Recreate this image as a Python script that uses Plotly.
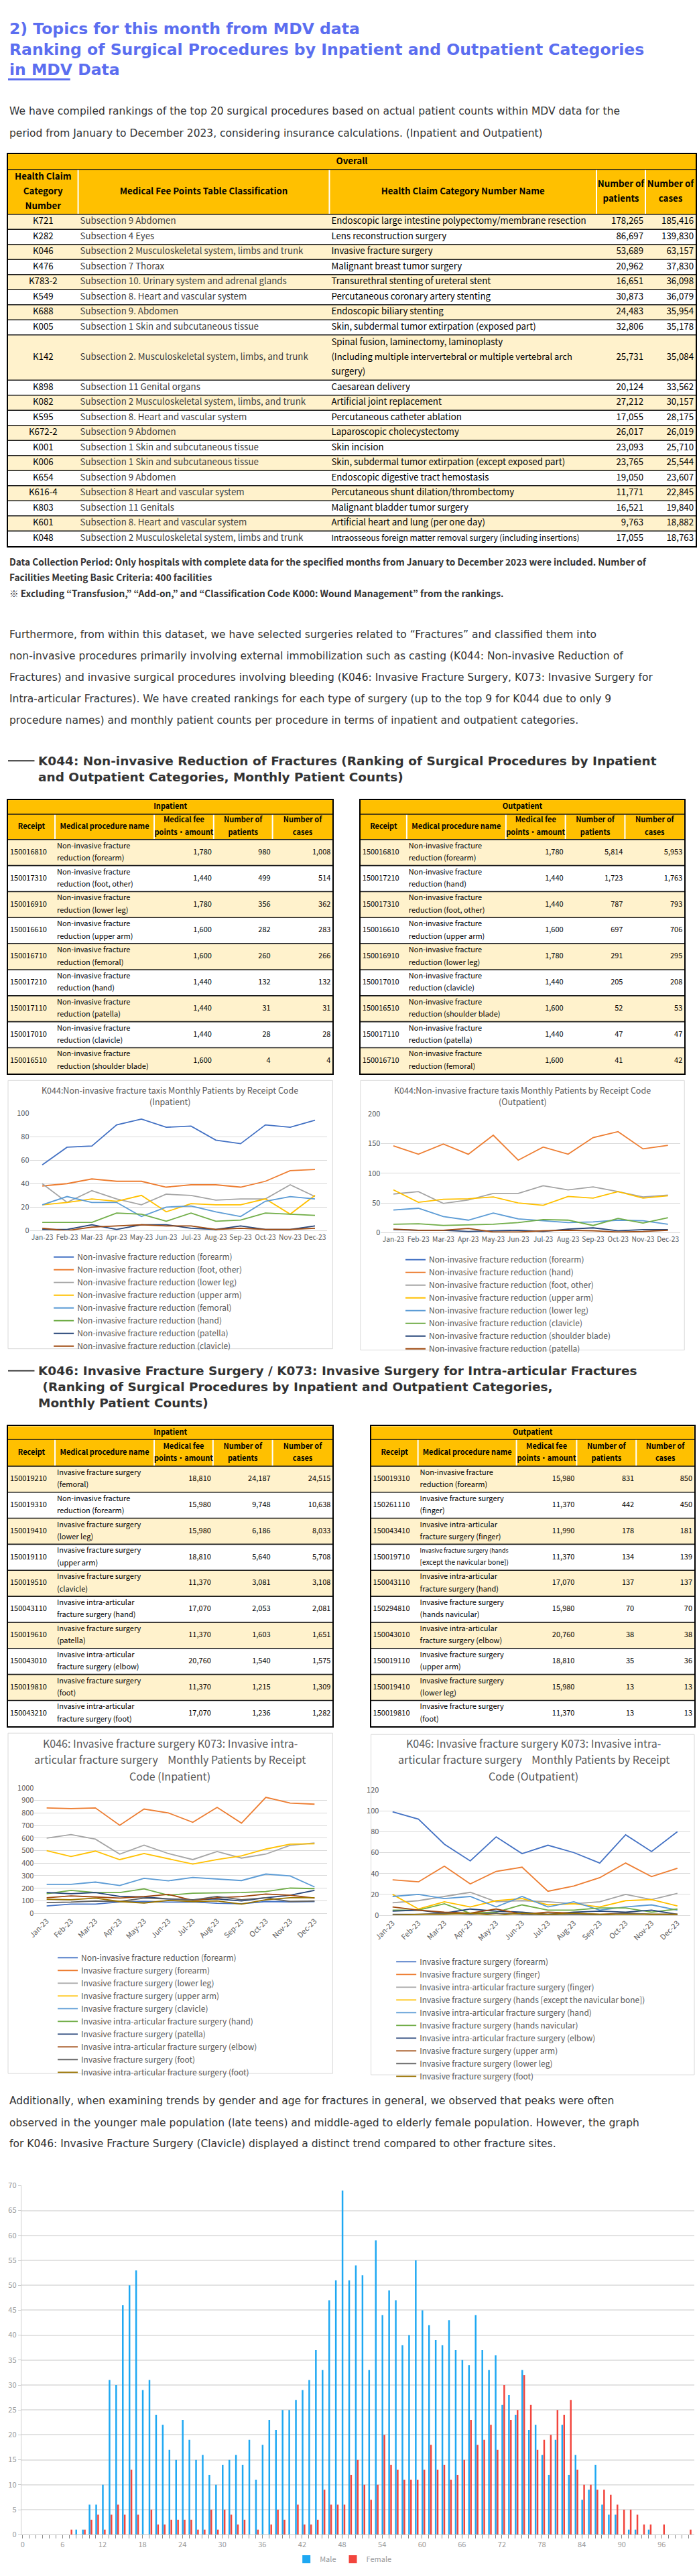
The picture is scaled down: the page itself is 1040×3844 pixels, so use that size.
import plotly.graph_objects as go

W, H = 1040, 3844
FONT = "Noto Sans CJK JP, Noto Sans, sans-serif"
BODY = "DejaVu Sans, Noto Sans, sans-serif"
TITLE_BLUE = "#5B6EF0"
TXT = "#333333"
GOLD, CREAM = "#FFC000", "#FFF2CC"
AXIS_GRAY = "#595959"
EXCEL = ["#4472C4", "#ED7D31", "#A5A5A5", "#FFC000", "#5B9BD5",
         "#70AD47", "#264478", "#9E480E", "#636363", "#997300"]

# ---------------------------------------------------------------- text
title_lines = ["2) Topics for this month from MDV data",
               "Ranking of Surgical Procedures by Inpatient and Outpatient Categories",
               "in MDV Data"]
intro_lines = ["We have compiled rankings of the top 20 surgical procedures based on actual patient counts within MDV data for the",
               "period from January to December 2023, considering insurance calculations. (Inpatient and Outpatient)"]
foot_lines = ["Data Collection Period: Only hospitals with complete data for the specified months from January to December 2023 were included. Number of",
              "Facilities Meeting Basic Criteria: 400 facilities",
              "※ Excluding “Transfusion,” “Add-on,” and “Classification Code K000: Wound Management” from the rankings."]
para_lines = ["Furthermore, from within this dataset, we have selected surgeries related to “Fractures” and classified them into",
              "non-invasive procedures primarily involving external immobilization such as casting (K044: Non-invasive Reduction of",
              "Fractures) and invasive surgical procedures involving bleeding (K046: Invasive Fracture Surgery, K073: Invasive Surgery for",
              "Intra-articular Fractures). We have created rankings for each type of surgery (up to the top 9 for K044 due to only 9",
              "procedure names) and monthly patient counts per procedure in terms of inpatient and outpatient categories."]
k044_heading = ["K044: Non-invasive Reduction of Fractures (Ranking of Surgical Procedures by Inpatient",
                "and Outpatient Categories, Monthly Patient Counts)"]
k046_heading = ["K046: Invasive Fracture Surgery / K073: Invasive Surgery for Intra-articular Fractures",
                "\u00a0(Ranking of Surgical Procedures by Inpatient and Outpatient Categories,",
                "Monthly Patient Counts)"]
final_lines = ["Additionally, when examining trends by gender and age for fractures in general, we observed that peaks were often",
               "observed in the younger male population (late teens) and middle-aged to elderly female population. However, the graph",
               "for K046: Invasive Fracture Surgery (Clavicle) displayed a distinct trend compared to other fracture sites."]

# ---------------------------------------------------------------- overall table
overall_headers = ["Health Claim\nCategory\nNumber", "Medical Fee Points Table Classification",
                   "Health Claim Category Number Name", "Number of\npatients", "Number of\ncases"]
overall_codes = ["K721", "K282", "K046", "K476", "K783-2", "K549", "K688", "K005", "K142", "K898",
                 "K082", "K595", "K672-2", "K001", "K006", "K654", "K616-4", "K803", "K601", "K048"]
overall_class = ["Subsection 9 Abdomen", "Subsection 4 Eyes",
                 "Subsection 2 Musculoskeletal system, limbs and trunk", "Subsection 7 Thorax",
                 "Subsection 10. Urinary system and adrenal glands", "Subsection 8. Heart and vascular system",
                 "Subsection 9. Abdomen", "Subsection 1 Skin and subcutaneous tissue",
                 "Subsection 2. Musculoskeletal system, limbs, and trunk", "Subsection 11 Genital organs",
                 "Subsection 2 Musculoskeletal system, limbs, and trunk", "Subsection 8. Heart and vascular system",
                 "Subsection 9 Abdomen", "Subsection 1 Skin and subcutaneous tissue",
                 "Subsection 1 Skin and subcutaneous tissue", "Subsection 9 Abdomen",
                 "Subsection 8 Heart and vascular system", "Subsection 11 Genitals",
                 "Subsection 8. Heart and vascular system", "Subsection 2 Musculoskeletal system, limbs and trunk"]
overall_names = ["Endoscopic large intestine polypectomy/membrane resection", "Lens reconstruction surgery",
                 "Invasive fracture surgery", "Malignant breast tumor surgery",
                 "Transurethral stenting of ureteral stent", "Percutaneous coronary artery stenting",
                 "Endoscopic biliary stenting", "Skin, subdermal tumor extirpation (exposed part)",
                 "Spinal fusion, laminectomy, laminoplasty\n(Including multiple intervertebral or multiple vertebral arch\nsurgery)",
                 "Caesarean delivery", "Artificial joint replacement", "Percutaneous catheter ablation",
                 "Laparoscopic cholecystectomy", "Skin incision",
                 "Skin, subdermal tumor extirpation (except exposed part)", "Endoscopic digestive tract hemostasis",
                 "Percutaneous shunt dilation/thrombectomy", "Malignant bladder tumor surgery",
                 "Artificial heart and lung (per one day)",
                 "Intraosseous foreign matter removal surgery (including insertions)"]
overall_patients = [178265, 86697, 53689, 20962, 16651, 30873, 24483, 32806, 25731, 20124,
                    27212, 17055, 26017, 23093, 23765, 19050, 11771, 16521, 9763, 17055]
overall_cases = [185416, 139830, 63157, 37830, 36098, 36079, 35954, 35178, 35084, 33562,
                 30157, 28175, 26019, 25710, 25544, 23607, 22845, 19840, 18882, 18763]

small_headers = ["Receipt", "Medical procedure name", "Medical fee\npoints・amount", "Number of\npatients", "Number of\ncases"]

# ---------------------------------------------------------------- K044 tables
k044_in_codes = ["150016810", "150017310", "150016910", "150016610", "150016710",
                 "150017210", "150017110", "150017010", "150016510"]
k044_in_names = ["Non-invasive fracture\nreduction (forearm)", "Non-invasive fracture\nreduction (foot, other)",
                 "Non-invasive fracture\nreduction (lower leg)", "Non-invasive fracture\nreduction (upper arm)",
                 "Non-invasive fracture\nreduction (femoral)", "Non-invasive fracture\nreduction (hand)",
                 "Non-invasive fracture\nreduction (patella)", "Non-invasive fracture\nreduction (clavicle)",
                 "Non-invasive fracture\nreduction (shoulder blade)"]
k044_in_points = [1780, 1440, 1780, 1600, 1600, 1440, 1440, 1440, 1600]
k044_in_patients = [980, 499, 356, 282, 260, 132, 31, 28, 4]
k044_in_cases = [1008, 514, 362, 283, 266, 132, 31, 28, 4]

k044_out_codes = ["150016810", "150017210", "150017310", "150016610", "150016910",
                  "150017010", "150016510", "150017110", "150016710"]
k044_out_names = ["Non-invasive fracture\nreduction (forearm)", "Non-invasive fracture\nreduction (hand)",
                  "Non-invasive fracture\nreduction (foot, other)", "Non-invasive fracture\nreduction (upper arm)",
                  "Non-invasive fracture\nreduction (lower leg)", "Non-invasive fracture\nreduction (clavicle)",
                  "Non-invasive fracture\nreduction (shoulder blade)", "Non-invasive fracture\nreduction (patella)",
                  "Non-invasive fracture\nreduction (femoral)"]
k044_out_points = [1780, 1440, 1440, 1600, 1780, 1440, 1600, 1440, 1600]
k044_out_patients = [5814, 1723, 787, 697, 291, 205, 52, 47, 41]
k044_out_cases = [5953, 1763, 793, 706, 295, 208, 53, 47, 42]

# ---------------------------------------------------------------- K046 tables
k046_in_codes = ["150019210", "150019310", "150019410", "150019110", "150019510",
                 "150043110", "150019610", "150043010", "150019810", "150043210"]
k046_in_names = ["Invasive fracture surgery\n(femoral)", "Non-invasive fracture\nreduction (forearm)",
                 "Invasive fracture surgery\n(lower leg)", "Invasive fracture surgery\n(upper arm)",
                 "Invasive fracture surgery\n(clavicle)", "Invasive intra-articular\nfracture surgery (hand)",
                 "Invasive fracture surgery\n(patella)", "Invasive intra-articular\nfracture surgery (elbow)",
                 "Invasive fracture surgery\n(foot)", "Invasive intra-articular\nfracture surgery (foot)"]
k046_in_points = [18810, 15980, 15980, 18810, 11370, 17070, 11370, 20760, 11370, 17070]
k046_in_patients = [24187, 9748, 6186, 5640, 3081, 2053, 1603, 1540, 1215, 1236]
k046_in_cases = [24515, 10638, 8033, 5708, 3108, 2081, 1651, 1575, 1309, 1282]

k046_out_codes = ["150019310", "150261110", "150043410", "150019710", "150043110",
                  "150294810", "150043010", "150019110", "150019410", "150019810"]
k046_out_names = ["Non-invasive fracture\nreduction (forearm)", "Invasive fracture surgery\n(finger)",
                  "Invasive intra-articular\nfracture surgery (finger)",
                  "Invasive fracture surgery (hands\n[except the navicular bone])",
                  "Invasive intra-articular\nfracture surgery (hand)", "Invasive fracture surgery\n(hands navicular)",
                  "Invasive intra-articular\nfracture surgery (elbow)", "Invasive fracture surgery\n(upper arm)",
                  "Invasive fracture surgery\n(lower leg)", "Invasive fracture surgery\n(foot)"]
k046_out_points = [15980, 11370, 11990, 11370, 17070, 15980, 20760, 18810, 15980, 11370]
k046_out_patients = [831, 442, 178, 134, 137, 70, 38, 35, 13, 13]
k046_out_cases = [850, 450, 181, 139, 137, 70, 38, 36, 13, 13]

# ---------------------------------------------------------------- monthly series
months = ["Jan-23", "Feb-23", "Mar-23", "Apr-23", "May-23", "Jun-23",
          "Jul-23", "Aug-23", "Sep-23", "Oct-23", "Nov-23", "Dec-23"]

k044_in_title = ["K044:Non-invasive fracture taxis Monthly Patients by Receipt Code", "(Inpatient)"]
k044_in_series_names = ["Non-invasive fracture reduction (forearm)", "Non-invasive fracture reduction (foot, other)",
                        "Non-invasive fracture reduction (lower leg)", "Non-invasive fracture reduction (upper arm)",
                        "Non-invasive fracture reduction (femoral)", "Non-invasive fracture reduction (hand)",
                        "Non-invasive fracture reduction (patella)", "Non-invasive fracture reduction (clavicle)"]
k044_in_forearm = [56, 71, 72, 90, 95, 88, 89, 77, 74, 90, 88, 94]
k044_in_foot = [38, 40, 44, 42, 42, 37, 39, 39, 37, 42, 51, 52]
k044_in_lowerleg = [40, 24, 34, 27, 22, 31, 30, 26, 27, 27, 39, 29]
k044_in_upperarm = [22, 24, 27, 25, 30, 16, 23, 22, 22, 27, 14, 30]
k044_in_femoral = [22, 29, 24, 24, 12, 20, 21, 16, 12, 25, 29, 27]
k044_in_hand = [7, 7, 7, 15, 14, 8, 15, 8, 9, 15, 14, 13]
k044_in_patella = [1, 1, 5, 1, 5, 5, 2, 1, 4, 1, 1, 4]
k044_in_clavicle = [2, 0, 3, 4, 5, 4, 4, 1, 2, 1, 1, 2]

k044_out_title = ["K044:Non-invasive fracture taxis Monthly Patients by Receipt Code", "(Outpatient)"]
k044_out_series_names = ["Non-invasive fracture reduction (forearm)", "Non-invasive fracture reduction (hand)",
                         "Non-invasive fracture reduction (foot, other)", "Non-invasive fracture reduction (upper arm)",
                         "Non-invasive fracture reduction (lower leg)", "Non-invasive fracture reduction (clavicle)",
                         "Non-invasive fracture reduction (shoulder blade)", "Non-invasive fracture reduction (patella)"]
k044_out_forearm = [None, None, None, None, None, None, None, None, None, None, None, None]  # above axis maximum
k044_out_hand = [146, 132, 149, 132, 164, 122, 144, 132, 160, 170, 141, 147]
k044_out_foot = [65, 69, 49, 55, 66, 66, 79, 72, 77, 69, 60, 63]
k044_out_upperarm = [72, 51, 56, 57, 60, 50, 46, 61, 58, 69, 58, 62]
k044_out_lowerleg = [38, 41, 27, 21, 33, 23, 20, 17, 18, 21, 20, 14]
k044_out_clavicle = [14, 15, 12, 13, 14, 17, 22, 21, 12, 24, 16, 25]
k044_out_shoulder = [5, 4, 4, 2, 3, 4, 2, 6, 8, 3, 5, 5]
k044_out_patella = [6, 4, 4, 7, 1, 1, 3, 4, 3, 1, 2, 4]

k046_in_title = ["K046: Invasive fracture surgery K073: Invasive intra-",
                 "articular fracture surgery\u00a0\u00a0\u00a0\u00a0Monthly Patients by Receipt",
                 "Code (Inpatient)"]
k046_in_series_names = ["Non-invasive fracture reduction (forearm)", "Invasive fracture surgery (forearm)",
                        "Invasive fracture surgery (lower leg)", "Invasive fracture surgery (upper arm)",
                        "Invasive fracture surgery (clavicle)", "Invasive intra-articular fracture surgery (hand)",
                        "Invasive fracture surgery (patella)", "Invasive intra-articular fracture surgery (elbow)",
                        "Invasive fracture surgery (foot)", "Invasive intra-articular fracture surgery (foot)"]
k046_in_s1 = [59, 73, 73, 91, 94, 89, 91, 80, 76, 94, 91, 94]
k046_in_s2 = [840, 835, 840, 702, 831, 800, 725, 844, 719, 924, 879, 870]
k046_in_s3 = [600, 627, 591, 472, 543, 476, 428, 492, 440, 472, 542, 561]
k046_in_s4 = [499, 453, 496, 428, 476, 435, 393, 428, 458, 512, 551, 554]
k046_in_s5 = [231, 231, 249, 222, 279, 259, 286, 275, 261, 313, 298, 210]
k046_in_s6 = [156, 183, 165, 165, 195, 144, 160, 162, 165, 174, 201, 197]
k046_in_s7 = [165, 156, 165, 135, 130, 115, 108, 115, 99, 124, 144, 183]
k046_in_s8 = [124, 139, 130, 121, 133, 151, 103, 124, 133, 153, 144, 121]
k046_in_s9 = [85, 89, 98, 94, 121, 112, 107, 135, 108, 124, 94, 98]
k046_in_s10 = [112, 108, 121, 94, 82, 103, 94, 99, 73, 108, 124, 124]

k046_out_title = ["K046: Invasive fracture surgery K073: Invasive intra-",
                  "articular fracture surgery\u00a0\u00a0\u00a0\u00a0Monthly Patients by Receipt",
                  "Code (Outpatient)"]
k046_out_series_names = ["Invasive fracture surgery (forearm)", "Invasive fracture surgery (finger)",
                         "Invasive intra-articular fracture surgery (finger)",
                         "Invasive fracture surgery (hands [except the navicular bone])",
                         "Invasive intra-articular fracture surgery (hand)", "Invasive fracture surgery (hands navicular)",
                         "Invasive intra-articular fracture surgery (elbow)", "Invasive fracture surgery (upper arm)",
                         "Invasive fracture surgery (lower leg)", "Invasive fracture surgery (foot)"]
k046_out_s1 = [99, 92, 68, 52, 75, 59, 67, 60, 50, 77, 61, 80]
k046_out_s2 = [34, 32, 47, 30, 42, 46, 23, 28, 36, 50, 37, 45]
k046_out_s3 = [12, 14, 18, 22, 13, 14, 13, 11, 13, 20, 15, 21]
k046_out_s4 = [20, 6, 13, 8, 14, 16, 10, 11, 8, 14, 15, 9]
k046_out_s5 = [18, 20, 16, 18, 8, 18, 8, 13, 5, 8, 10, 5]
k046_out_s6 = [5, 5, 11, 2, 3, 10, 5, 5, 7, 7, 3, 6]
k046_out_s7 = [4, 5, 2, 6, 4, 3, 1, 3, 4, 3, 5, 1]
k046_out_s8 = [8, 5, 3, 2, 6, 1, 3, 2, 1, 2, 1, 1]
k046_out_s9 = [1, 1, 2, 1, 2, 1, 0, 1, 0, 2, 1, 1]
k046_out_s10 = [0, 1, 1, 2, 0, 2, 1, 2, 1, 1, 1, 1]

# ---------------------------------------------------------------- age histogram
ages = list(range(101))
male = [0, 0, 0, 0, 0, 0, 0, 0, 1, 1,
        6, 6, 10, 31, 30, 46, 50, 53, 29, 31,
        24, 22, 17, 15, 23, 19, 15, 16, 12, 10,
        14, 15, 16, 14, 19, 11, 18, 23, 21, 25,
        25, 27, 29, 31, 37, 33, 47, 51, 69, 51,
        54, 52, 33, 59, 44, 49, 47, 38, 40, 55,
        45, 42, 39, 38, 43, 37, 35, 34, 44, 37,
        33, 36, 26, 28, 24, 33, 21, 22, 16, 12,
        19, 22, 12, 16, 7, 9, 14, 6, 4, 4,
        0, 1, 1, 0, 1, 0, 0, 0, 0, 0,
        0]
female = [0, 0, 0, 0, 0, 0, 0, 1, 0, 1,
          3, 4, 1, 4, 6, 4, 13, 4, 0, 5,
          2, 2, 3, 3, 3, 3, 1, 1, 5, 1,
          5, 4, 2, 3, 0, 1, 0, 2, 5, 3,
          0, 6, 2, 2, 3, 9, 6, 6, 6, 12,
          15, 10, 7, 10, 20, 14, 13, 11, 11, 11,
          13, 18, 13, 14, 11, 12, 15, 23, 18, 19,
          22, 17, 30, 23, 25, 32, 26, 17, 19, 20,
          25, 24, 27, 13, 10, 10, 9, 9, 8, 6,
          5, 5, 4, 2, 2, 0, 2, 0, 0, 0,
          1]

# ================================================================ drawing
def X(p):
    return p / W


def Y(p):
    return 1 - p / H


def axkey(kind, k):
    return kind + "axis" + ("" if k == 1 else str(k))


def axref(kind, k):
    return kind + ("" if k == 1 else str(k))


fig = go.Figure()
layout_updates = {}


def add_lines(lines, x, ys, size, color, bold=False, xanchor="left", family=FONT):
    for ln, yy in zip(lines, ys):
        fig.add_annotation(text=("<b>%s</b>" % ln) if bold else ln, x=X(x), y=Y(yy),
                           xref="paper", yref="paper", xanchor=xanchor, yanchor="middle",
                           showarrow=False, font=dict(family=family, size=size, color=color))


def add_block(lines, x, yc, size, color, bold=False, family=BODY):
    body = "<br>".join(lines)
    fig.add_annotation(text=("<b>%s</b>" % body) if bold else body, x=X(x), y=Y(yc),
                       xref="paper", yref="paper", xanchor="left", yanchor="middle", align="left",
                       showarrow=False, font=dict(family=family, size=size, color=color))


def fmt(v):
    return "{:,}".format(v) if isinstance(v, int) else v


def draw_table(k, x0, y0, widths, aligns, band_label, band_h, headers, header_h,
               columns, row_h, per_line, line_gap, fsize, col_colors):
    nrows = len(columns[0])
    heights = [band_h, header_h]
    for r in range(nrows):
        nl = max(len(str(fmt(c[r])).split("\n")) for c in columns)
        heights.append(row_h * nl if per_line else row_h)
    yedges = [0]
    for h in heights:
        yedges.append(yedges[-1] + h)
    xedges = [0]
    for w in widths:
        xedges.append(xedges[-1] + w)
    tw, th = xedges[-1], yedges[-1]
    nc = len(widths)
    z = [[0] * nc, [0] * nc] + [[1 if r % 2 == 0 else 2] * nc for r in range(nrows)]
    xa, ya = axref("x", k), axref("y", k)
    fig.add_trace(go.Heatmap(x=xedges, y=yedges, z=z, zmin=0, zmax=2, showscale=False,
                             colorscale=[[0, GOLD], [0.5, CREAM], [1, "#FFFFFF"]],
                             hoverinfo="skip", xaxis=xa, yaxis=ya))
    vx, vy = [], []
    for e in xedges[1:-1]:
        vx += [e, e, None]
        vy += [yedges[1], yedges[2], None]
    fig.add_trace(go.Scatter(x=vx, y=vy, mode="lines", line=dict(color="#FFFFFF", width=2),
                             hoverinfo="skip", showlegend=False, xaxis=xa, yaxis=ya))
    hx, hy = [], []
    for e in yedges[1:-1]:
        hx += [0, tw, None]
        hy += [e, e, None]
    fig.add_trace(go.Scatter(x=hx, y=hy, mode="lines", line=dict(color="#1a1a1a", width=1.6),
                             hoverinfo="skip", showlegend=False, xaxis=xa, yaxis=ya))
    tx, ty, tt, tp, tc, ts = [], [], [], [], [], []

    def put(text, xl, xr, yc, align, color, bold):
        lines = str(text).split("\n")
        n = len(lines)
        for i, ln in enumerate(lines):
            size = fsize
            est = len(ln) * 0.5 * size
            if align == "left" and est > (xr - xl - 6):
                size = max(8, (xr - xl - 6) / (len(ln) * 0.5))
            yy = yc + (i - (n - 1) / 2) * line_gap
            if align == "left":
                tx.append(xl + 3); tp.append("middle right")
            elif align == "right":
                tx.append(xr - 3); tp.append("middle left")
            else:
                tx.append((xl + xr) / 2); tp.append("middle center")
            ty.append(yy)
            tt.append("<b>%s</b>" % ln if bold else ln)
            tc.append(color)
            ts.append(size)

    put(band_label, 0, tw, band_h / 2, "center", "#000000", True)
    for j, hd in enumerate(headers):
        put(hd, xedges[j], xedges[j + 1], yedges[1] + header_h / 2, "center", "#000000", True)
    for r in range(nrows):
        yc = (yedges[r + 2] + yedges[r + 3]) / 2
        for j in range(nc):
            put(fmt(columns[j][r]), xedges[j], xedges[j + 1], yc, aligns[j], col_colors[j], False)
    fig.add_trace(go.Scatter(x=tx, y=ty, text=tt, mode="text", textposition=tp,
                             textfont=dict(family=FONT, size=ts, color=tc), cliponaxis=False,
                             hoverinfo="skip", showlegend=False, xaxis=xa, yaxis=ya))
    ax = dict(showline=True, mirror=True, linecolor="#000000", linewidth=2, showgrid=False,
              zeroline=False, showticklabels=False, ticks="", fixedrange=True)
    layout_updates[axkey("x", k)] = dict(ax, domain=[X(x0), X(x0 + tw)], range=[0, tw], anchor=ya)
    layout_updates[axkey("y", k)] = dict(ax, domain=[Y(y0 + th), Y(y0)], range=[th, 0], anchor=xa)


def line_chart(k, legend_id, xd, yd, yrange, dtick, names, series, colors, tickangle,
               leg_x, leg_y, frame, title, title_ys, title_cx, title_size, tick_size):
    xa, ya = axref("x", k), axref("y", k)
    for nm, vals, col in zip(names, series, colors):
        fig.add_trace(go.Scatter(x=months, y=vals, name=nm, mode="lines",
                                 line=dict(color=col, width=1.8), xaxis=xa, yaxis=ya,
                                 legend=legend_id, hoverinfo="skip"))
    layout_updates[axkey("x", k)] = dict(domain=[X(xd[0]), X(xd[1])], range=[-0.5, 11.5], anchor=ya,
                                         type="category", showgrid=False, showline=True,
                                         linecolor="#d9d9d9", ticks="", tickangle=tickangle,
                                         tickfont=dict(family=FONT, size=tick_size, color=AXIS_GRAY),
                                         zeroline=False, fixedrange=True)
    layout_updates[axkey("y", k)] = dict(domain=[Y(yd[1]), Y(yd[0])], range=yrange, dtick=dtick,
                                         anchor=xa, showgrid=True, gridcolor="#d9d9d9",
                                         showline=False, zeroline=False, ticks="",
                                         tickfont=dict(family=FONT, size=11, color=AXIS_GRAY),
                                         fixedrange=True)
    layout_updates[legend_id] = dict(x=X(leg_x), y=Y(leg_y), xanchor="left", yanchor="top",
                                     xref="paper", yref="paper", bgcolor="rgba(0,0,0,0)",
                                     tracegroupgap=0, itemwidth=30,
                                     font=dict(family=FONT, size=12, color=AXIS_GRAY))
    fig.add_shape(type="rect", xref="paper", yref="paper", x0=X(frame[0]), x1=X(frame[1]),
                  y0=Y(frame[3]), y1=Y(frame[2]), line=dict(color="#d9d9d9", width=1))
    add_lines(title, title_cx, title_ys, title_size, AXIS_GRAY, xanchor="center")


# ---------------- page text
add_block(title_lines, 0, 65, 23.5, TITLE_BLUE, bold=True)
fig.add_shape(type="line", xref="paper", yref="paper", x0=X(0), x1=X(94), y0=Y(110), y1=Y(110),
              line=dict(color=TITLE_BLUE, width=3))
add_lines(intro_lines, 0, [158, 191], 15.5, TXT, family=BODY)
add_lines(foot_lines, 0, [832, 856, 880], 13.7, TXT, bold=True)
add_lines(para_lines, 0, [942, 974, 1006, 1038, 1070], 15.5, TXT, family=BODY)
add_block(k044_heading, 44, 1143, 18.5, TXT, bold=True)
fig.add_shape(type="line", xref="paper", yref="paper", x0=X(0), x1=X(40), y0=Y(1131), y1=Y(1131),
              line=dict(color=TXT, width=2))
add_block(k046_heading, 44, 2069, 18.5, TXT, bold=True)
fig.add_shape(type="line", xref="paper", yref="paper", x0=X(0), x1=X(40), y0=Y(2045), y1=Y(2045),
              line=dict(color=TXT, width=2))
add_lines(final_lines, 0, [3139, 3172, 3203], 15.5, TXT, family=BODY)

# ---------------- tables
draw_table(1, 0, 222, [106, 380, 404, 74, 76], ["center", "left", "left", "right", "right"],
           "Overall", 23, overall_headers, 67,
           [overall_codes, overall_class, overall_names, overall_patients, overall_cases],
           22.6, True, 22.2, 13.3, ["#000000", "#404040", "#000000", "#000000", "#000000"])

small_aligns = ["left", "left", "right", "right", "right"]
small_colors = ["#000000"] * 5
draw_table(2, 0, 1190, [71, 150, 90, 89, 91], small_aligns, "Inpatient", 21, small_headers, 38,
           [k044_in_codes, k044_in_names, k044_in_points, k044_in_patients, k044_in_cases],
           39, False, 18.5, 11, small_colors)
draw_table(3, 533, 1190, [70, 150, 90, 90, 90], small_aligns, "Outpatient", 21, small_headers, 38,
           [k044_out_codes, k044_out_names, k044_out_points, k044_out_patients, k044_out_cases],
           39, False, 18.5, 11, small_colors)
draw_table(4, 0, 2128, [71, 150, 89, 90, 91], small_aligns, "Inpatient", 20, small_headers, 40,
           [k046_in_codes, k046_in_names, k046_in_points, k046_in_patients, k046_in_cases],
           39, False, 18.3, 11, small_colors)
draw_table(5, 549, 2128, [71, 149, 91, 90, 88], small_aligns, "Outpatient", 20, small_headers, 40,
           [k046_out_codes, k046_out_names, k046_out_points, k046_out_patients, k046_out_cases],
           39, False, 18.3, 11, small_colors)

# ---------------- line charts
line_chart(6, "legend", (33, 483), (1659, 1835), [0, 100], 20, k044_in_series_names,
           [k044_in_forearm, k044_in_foot, k044_in_lowerleg, k044_in_upperarm, k044_in_femoral,
            k044_in_hand, k044_in_patella, k044_in_clavicle], EXCEL[:8], 0,
           64, 1860, (0, 491, 1610, 2012), k044_in_title, [1624, 1641], 245, 12.5, 10.3)
line_chart(7, "legend2", (564, 1017), (1660, 1838), [0, 200], 50, k044_out_series_names,
           [k044_out_forearm, k044_out_hand, k044_out_foot, k044_out_upperarm, k044_out_lowerleg,
            k044_out_clavicle, k044_out_shoulder, k044_out_patella], EXCEL[:8], 0,
           596, 1864, (533, 1023, 1610, 2014), k044_out_title, [1624, 1641], 778, 12.5, 10.3)
line_chart(8, "legend3", (40, 482), (2670, 2858), [0, 1000], 100, k046_in_series_names,
           [k046_in_s1, k046_in_s2, k046_in_s3, k046_in_s4, k046_in_s5, k046_in_s6,
            k046_in_s7, k046_in_s8, k046_in_s9, k046_in_s10], EXCEL, -45,
           70, 2910, (0, 491, 2588, 3098), k046_in_title, [2603, 2627, 2652], 245, 16, 11)
line_chart(9, "legend4", (562, 1032), (2673, 2861), [0, 120], 20, k046_out_series_names,
           [k046_out_s1, k046_out_s2, k046_out_s3, k046_out_s4, k046_out_s5, k046_out_s6,
            k046_out_s7, k046_out_s8, k046_out_s9, k046_out_s10], EXCEL, -45,
           582, 2916, (549, 1038, 2590, 3100), k046_out_title, [2603, 2627, 2652], 795, 16, 11)

# ---------------- age histogram
fig.add_trace(go.Bar(x=ages, y=male, name="Male", width=0.25, offset=-0.07,
                     marker=dict(color="#1EA8F2", line=dict(width=0)),
                     xaxis="x10", yaxis="y10", legend="legend5", hoverinfo="skip"))
fig.add_trace(go.Bar(x=ages, y=female, name="Female", width=0.25, offset=0.22,
                     marker=dict(color="#F2453D", line=dict(width=0)),
                     xaxis="x10", yaxis="y10", legend="legend5", hoverinfo="skip"))
layout_updates["xaxis10"] = dict(domain=[X(20), X(1038)], range=[-0.2, 100.9], anchor="y10",
                                 tick0=0, dtick=6, ticks="outside", ticklen=5, tickcolor="#888888",
                                 minor=dict(dtick=1, ticks="outside", ticklen=5, tickcolor="#888888"),
                                 showline=True, linecolor="#cccccc", showgrid=False, zeroline=False,
                                 tickfont=dict(family=FONT, size=11, color="#999999"), fixedrange=True)
layout_updates["yaxis10"] = dict(domain=[Y(3789), Y(3266)], range=[0, 70], dtick=5, anchor="x10",
                                 showgrid=True, gridcolor="#e3e3e3", gridwidth=1.5, showline=True,
                                 linecolor="#cccccc", ticks="outside", ticklen=4, tickcolor="#cccccc",
                                 zeroline=False, tickfont=dict(family=FONT, size=11, color="#999999"),
                                 fixedrange=True)
layout_updates["legend5"] = dict(orientation="h", x=X(508), y=Y(3826), xanchor="center",
                                 yanchor="middle", xref="paper", yref="paper",
                                 bgcolor="rgba(0,0,0,0)", itemwidth=30,
                                 font=dict(family=FONT, size=11, color="#999999"))

fig.update_layout(width=W, height=H, autosize=False, margin=dict(l=0, r=0, t=0, b=0),
                  paper_bgcolor="#FFFFFF", plot_bgcolor="#FFFFFF", showlegend=True,
                  barmode="overlay", font=dict(family=FONT), **layout_updates)

fig.write_html("out.html", config={"displayModeBar": False},
               post_script="document.body.style.margin='0px';")
